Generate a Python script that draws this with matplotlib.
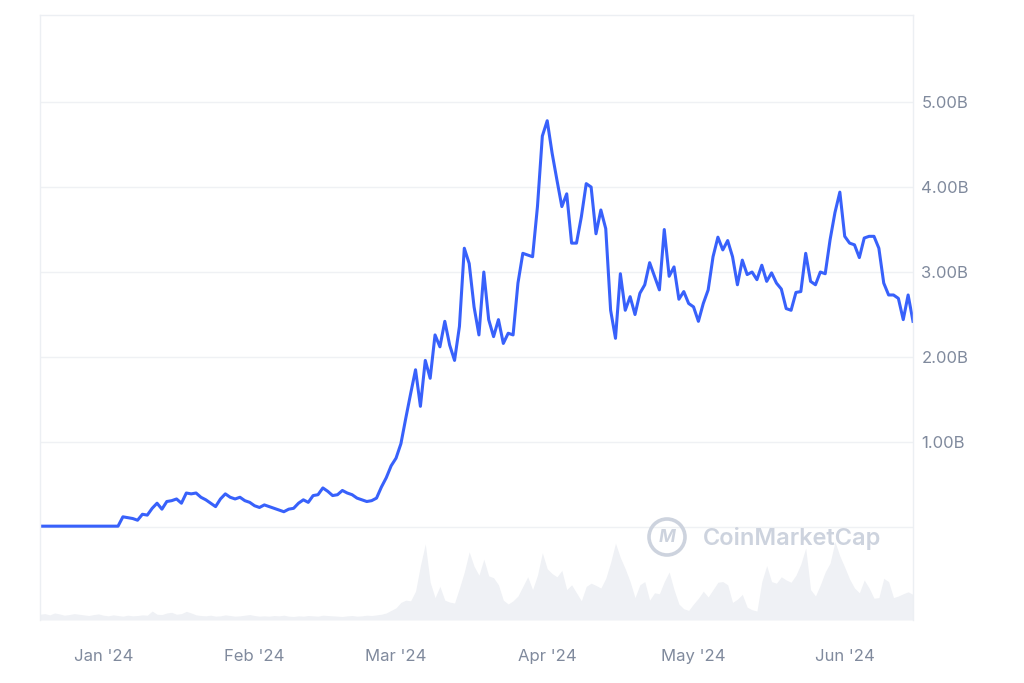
import pandas as pd
import matplotlib.pyplot as plt
import matplotlib.dates as mdates
from matplotlib.patches import Ellipse

# --- datos ---
start_date = '2023-12-19'

# capitalizacion de mercado diaria, en miles de millones (B)
market_cap_b = [
    0.01, 0.01, 0.01, 0.01, 0.01, 0.01, 0.01, 0.01, 0.01, 0.01,
    0.01, 0.01, 0.01, 0.01, 0.01, 0.01, 0.01, 0.12, 0.11, 0.10,
    0.08, 0.15, 0.14, 0.22, 0.28, 0.21, 0.30, 0.31, 0.33, 0.28,
    0.40, 0.39, 0.40, 0.35, 0.32, 0.28, 0.24, 0.33, 0.39, 0.35,
    0.33, 0.35, 0.31, 0.29, 0.25, 0.23, 0.26, 0.24, 0.22, 0.20,
    0.18, 0.21, 0.22, 0.28, 0.32, 0.29, 0.37, 0.38, 0.46, 0.42,
    0.37, 0.38, 0.43, 0.40, 0.38, 0.34, 0.32, 0.30, 0.31, 0.34,
    0.47, 0.58, 0.72, 0.81, 0.98, 1.28, 1.57, 1.85, 1.42, 1.96,
    1.75, 2.26, 2.12, 2.42, 2.14, 1.96, 2.36, 3.28, 3.10, 2.59,
    2.26, 3.00, 2.44, 2.24, 2.44, 2.16, 2.28, 2.26, 2.87, 3.22,
    3.20, 3.18, 3.77, 4.60, 4.78, 4.40, 4.08, 3.77, 3.92, 3.34,
    3.34, 3.65, 4.04, 4.00, 3.45, 3.73, 3.51, 2.55, 2.22, 2.98,
    2.55, 2.71, 2.50, 2.75, 2.85, 3.11, 2.95, 2.79, 3.50, 2.95,
    3.06, 2.68, 2.77, 2.63, 2.59, 2.42, 2.63, 2.79, 3.18, 3.41,
    3.26, 3.37, 3.18, 2.85, 3.14, 2.97, 3.00, 2.91, 3.08, 2.89,
    2.99, 2.87, 2.80, 2.57, 2.55, 2.76, 2.77, 3.22, 2.89, 2.85,
    3.00, 2.98, 3.38, 3.70, 3.94, 3.42, 3.34, 3.32, 3.17, 3.40,
    3.42, 3.42, 3.28, 2.87, 2.73, 2.73, 2.69, 2.44, 2.73, 2.42,
]

# volumen diario (unidades relativas)
volume = [
    18, 20, 16, 22, 19, 15, 17, 20, 18, 16,
    14, 17, 19, 15, 13, 16, 14, 12, 15, 13,
    14, 16, 15, 28, 18, 17, 22, 24, 18, 20,
    27, 22, 16, 14, 13, 15, 12, 13, 16, 14,
    12, 13, 15, 17, 14, 12, 13, 12, 14, 13,
    15, 12, 11, 13, 12, 14, 13, 12, 15, 14,
    13, 12, 11, 13, 14, 12, 13, 15, 14, 16,
    18, 22, 30, 38, 55, 62, 60, 90, 170, 238,
    118, 70, 105, 62, 56, 53, 100, 150, 213, 168,
    140, 190, 138, 132, 110, 62, 50, 60, 75, 105,
    135, 95, 140, 210, 160, 145, 135, 155, 95, 110,
    85, 60, 105, 115, 108, 100, 130, 180, 240, 195,
    160, 120, 70, 110, 120, 62, 85, 82, 120, 150,
    95, 50, 35, 30, 50, 68, 90, 72, 95, 118,
    120, 110, 55, 65, 80, 40, 32, 28, 120, 170,
    120, 115, 135, 125, 118, 140, 175, 225, 95, 75,
    110, 150, 178, 245, 200, 165, 128, 100, 85, 125,
    100, 68, 70, 130, 120, 70, 75, 82, 88, 80,
]

y_ticks = [0, 1, 2, 3, 4, 5]
y_tick_labels = ['', '1.00B', '2.00B', '3.00B', '4.00B', '5.00B']

fechas = pd.date_range(start_date, periods=len(market_cap_b), freq='D')

# --- figura ---
plt.rcParams['font.family'] = ['Inter', 'DejaVu Sans']
fig = plt.figure(figsize=(10.24, 6.83), dpi=100)
rect = [40 / 1024, 1 - 620 / 683, 873 / 1024, 605 / 683]

# volumen en un eje aparte, detras
ax_vol = fig.add_axes(rect)
ax_vol.fill_between(fechas, volume, 0, color='#eff1f5', lw=0)
ax_vol.set_ylim(0, 1890)
ax_vol.set_xlim(fechas[0], fechas[-1])
ax_vol.axis('off')

ax = fig.add_axes(rect, sharex=ax_vol)
ax.patch.set_alpha(0)
ax.plot(fechas, market_cap_b, color='#3861fb', lw=2.2, solid_joinstyle='round')
ax.set_ylim(-1.094, 6.024)
ax.set_xlim(fechas[0], fechas[-1])

for v in y_ticks:
    ax.axhline(v, color='#eff1f4', lw=1.0, zorder=0)

ax.yaxis.tick_right()
ax.set_yticks(y_ticks)
ax.set_yticklabels(y_tick_labels)
ax.tick_params(axis='y', length=0, pad=6, labelsize=12, labelcolor='#808a9d')

ax.xaxis.set_major_locator(mdates.MonthLocator(bymonth=[1, 2, 3, 4, 5, 6]))
ax.xaxis.set_major_formatter(mdates.DateFormatter("%b '%y"))
ax.tick_params(axis='x', length=0, pad=21, labelsize=12, labelcolor='#808a9d')

for s in ax.spines.values():
    s.set_color('#eceff3')
    s.set_linewidth(1.0)
ax.spines['bottom'].set_visible(False)

# marca de agua
wm_color = '#cdd3de'
fig.text(703 / 1024, 1 - 538 / 683, 'CoinMarketCap', fontsize=17, fontweight='semibold',
         color=wm_color, va='center', ha='left')
logo = Ellipse((667 / 1024, 1 - 537 / 683), 36 / 1024, 36 / 683, transform=fig.transFigure,
               fill=False, lw=2.6, ec=wm_color)
fig.add_artist(logo)
fig.text(667 / 1024, 1 - 538 / 683, 'M', fontsize=13, fontweight='bold', style='italic',
         color=wm_color, ha='center', va='center')

fig.savefig('out.png', dpi=100, facecolor='white')
